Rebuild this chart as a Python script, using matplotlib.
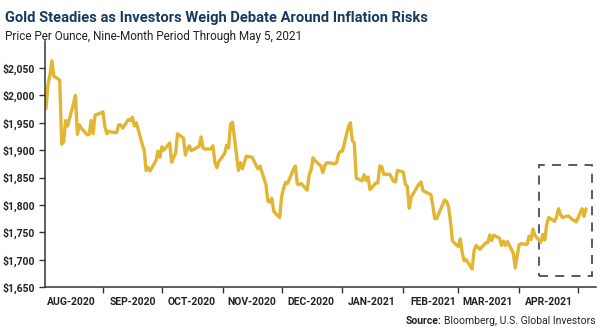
import matplotlib
matplotlib.use('Agg')
import matplotlib.pyplot as plt
import matplotlib.dates as mdates
import pandas as pd
from matplotlib.patches import Rectangle

# ----- data (spot gold, USD/oz, business days) -----
start_day = '2020-08-03'
end_day = '2021-05-05'
gold_price = [
    1976, 2019, 2037, 2063, 2035,
    2028, 1911, 1915, 1954, 1944,
    1985, 2000, 1929, 1946, 1940,
    1928, 1929, 1954, 1930, 1964,
    1968, 1970, 1943, 1930, 1934,
    1932, 1932, 1946, 1946, 1940,
    1956, 1954, 1960, 1944, 1950,
    1911, 1900, 1863, 1868, 1862,
    1881, 1898, 1887, 1906, 1900,
    1913, 1878, 1887, 1894, 1930,
    1922, 1891, 1902, 1908, 1899,
    1905, 1907, 1924, 1904, 1902,
    1902, 1908, 1878, 1868, 1879,
    1894, 1909, 1904, 1948, 1951,
    1863, 1877, 1866, 1877, 1889,
    1887, 1880, 1872, 1866, 1871,
    1837, 1807, 1805, 1812, 1788,
    1777, 1815, 1830, 1841, 1839,
    1865, 1871, 1838, 1837, 1839,
    1827, 1854, 1864, 1886, 1881,
    1871, 1859, 1872, 1877, 1877,
    1875, 1877, 1893, 1898, 1898,
    1943, 1950, 1918, 1913, 1849,
    1844, 1855, 1845, 1851, 1828,
    1840, 1840, 1871, 1870, 1856,
    1856, 1850, 1843, 1842, 1863,
    1860, 1838, 1834, 1794, 1814,
    1833, 1838, 1842, 1826, 1824,
    1819, 1799, 1775, 1775, 1784,
    1809, 1806, 1797, 1770, 1734,
    1724, 1738, 1712, 1698, 1700,
    1683, 1716, 1726, 1723, 1719,
    1731, 1731, 1745, 1735, 1745,
    1739, 1726, 1734, 1726, 1733,
    1712, 1685, 1708, 1728, 1729,
    1728, 1743, 1737, 1756, 1744,
    1732, 1746, 1736, 1764, 1777,
    1770, 1778, 1793, 1783, 1777,
    1780, 1777, 1773, 1772, 1769,
    1793, 1779, 1793,
]
dates = pd.bdate_range(start_day, end_day)

month_labels = ['AUG-2020', 'SEP-2020', 'OCT-2020', 'NOV-2020', 'DEC-2020',
                'JAN-2021', 'FEB-2021', 'MAR-2021', 'APR-2021']
y_ticks = [1650, 1700, 1750, 1800, 1850, 1900, 1950, 2000, 2050]

# highlighted region (dashed box)
box_start, box_end = '2021-04-11', '2021-05-08'
box_low, box_high = 1670, 1873

GOLD = '#e2b533'
NAVY = '#173a5e'
TEXT = '#222222'

fig = plt.figure(figsize=(6, 3.3), dpi=100)
ax = fig.add_axes([0.075, 0.13, 0.918, 0.747])

ax.plot(dates, gold_price, color=GOLD, lw=2.4, solid_joinstyle='round',
        solid_capstyle='round')

bx0 = mdates.date2num(pd.Timestamp(box_start))
bx1 = mdates.date2num(pd.Timestamp(box_end))
ax.add_patch(Rectangle((bx0, box_low), bx1 - bx0, box_high - box_low,
                       fill=False, ec='#4a4a6a', lw=1.3, ls=(0, (5, 4))))

ax.set_ylim(1650, 2100)
ax.set_xlim(pd.Timestamp('2020-08-02 12:00'), pd.Timestamp('2021-05-10'))

ax.set_yticks(y_ticks)
ax.set_yticklabels(['${:,}'.format(v) for v in y_ticks])

month_starts = pd.date_range('2020-09-01', '2021-05-01', freq='MS')
ax.set_xticks(month_starts)
ax.set_xticklabels([])
mids = pd.date_range('2020-08-01', '2021-04-01', freq='MS') + pd.Timedelta(days=15)
ax.set_xticks(mids, minor=True)
ax.set_xticklabels(month_labels, minor=True)
ax.tick_params(axis='x', which='minor', length=0, pad=7)
ax.tick_params(axis='x', which='major', length=4, width=1, color='#333333')
ax.tick_params(axis='y', length=4, width=1, color='#333333', pad=3)

for lab in ax.get_xticklabels(minor=True) + ax.get_yticklabels():
    lab.set_fontfamily('Roboto')
    lab.set_fontweight('bold')
    lab.set_fontsize(7.5)
    lab.set_color(TEXT)

for s in ['top', 'right']:
    ax.spines[s].set_visible(False)
for s in ['left', 'bottom']:
    ax.spines[s].set_color('#333333')
    ax.spines[s].set_linewidth(1.1)

fig.text(0.008, 0.945, 'Gold Steadies as Investors Weigh Debate Around Inflation Risks',
         family='Roboto', weight='bold', fontsize=10.6, color=NAVY, va='center')
fig.text(0.008, 0.89, 'Price Per Ounce, Nine-Month Period Through May 5, 2021',
         family='Roboto', fontsize=8.5, color=TEXT, va='center')

src = fig.text(0.992, 0.012, 'Bloomberg, U.S. Global Investors', family='Roboto',
               fontsize=7.5, color=TEXT, ha='right', va='bottom')
fig.canvas.draw()
bb = src.get_window_extent()
fig.text(bb.x0 / fig.bbox.width - 0.004, 0.012, 'Source:', family='Roboto',
         weight='bold', fontsize=7.5, color=TEXT, ha='right', va='bottom')

fig.savefig('out.png', dpi=100)
